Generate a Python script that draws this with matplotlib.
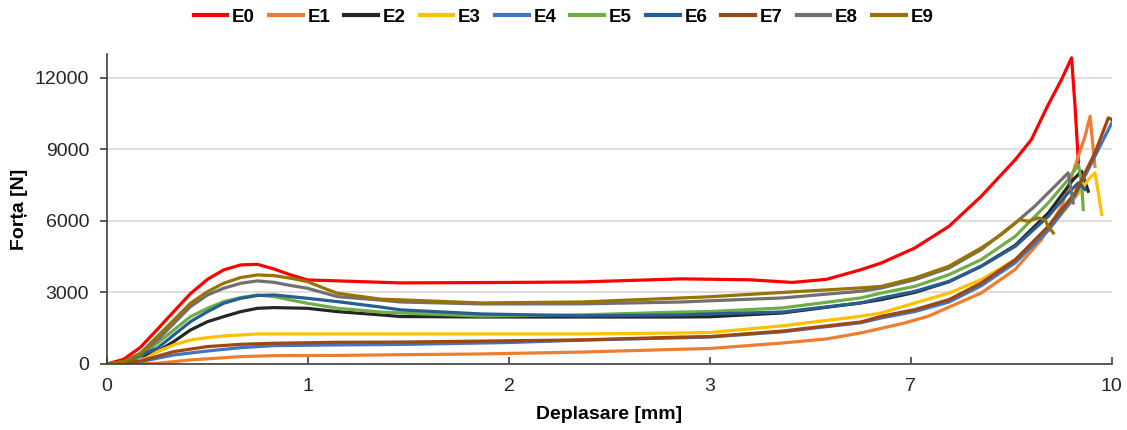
import matplotlib
matplotlib.use("Agg")
import matplotlib.pyplot as plt

plt.rcParams['font.family'] = ['Liberation Sans', 'DejaVu Sans']

# category positions 0..5 on the x axis, labelled with the displacement marks
tick_pos = [0, 1, 2, 3, 4, 5]
tick_labels = ['0', '1', '2', '3', '7', '10']
y_ticks = [0, 3000, 6000, 9000, 12000]

names = ['E0', 'E1', 'E2', 'E3', 'E4', 'E5', 'E6', 'E7', 'E8', 'E9']
colors = ['#FF0000', '#ED7D31', '#262626', '#FFC000', '#4472C4',
          '#70AD47', '#255E91', '#9E480E', '#707070', '#997300']

# values (x in axis positions)
x_e0 = [0, 0.083, 0.166, 0.25, 0.332, 0.415, 0.5, 0.58, 0.665, 0.748, 0.83, 0.914, 0.997,
        1.147, 1.46, 2.0, 2.36, 2.86, 3.2, 3.41, 3.58, 3.75, 3.853, 4.02, 4.19, 4.35, 4.52,
        4.6, 4.68, 4.75, 4.8, 4.817, 4.834]
y_e0 = [0, 200, 700, 1450, 2200, 2950, 3550, 3945, 4155, 4180, 3985, 3735, 3525,
        3485, 3400, 3420, 3440, 3570, 3530, 3420, 3550, 3950, 4235, 4865, 5775, 7030, 8570,
        9410, 10810, 11930, 12840, 10810, 8430]

x_e1 = [0, 0.25, 0.415, 0.665, 0.83, 1.147, 1.46, 1.86, 2.36, 2.86, 3.0, 3.36, 3.58, 3.75,
        3.96, 4.086, 4.35, 4.518, 4.65, 4.75, 4.817, 4.867, 4.892, 4.908, 4.916]
y_e1 = [0, 30, 170, 310, 350, 360, 390, 420, 500, 620, 650, 880, 1050, 1300,
        1700, 2000, 2975, 3955, 5215, 6615, 8290, 9550, 10390, 8990, 8290]

x_e2 = [0, 0.083, 0.25, 0.332, 0.415, 0.5, 0.58, 0.665, 0.748, 0.83, 0.997, 1.147, 1.36,
        1.46, 1.86, 2.36, 2.86, 3.0, 3.36, 3.75, 3.853, 4.02, 4.19, 4.35, 4.52, 4.684,
        4.808, 4.85, 4.883]
y_e2 = [0, 80, 520, 940, 1425, 1775, 1985, 2195, 2335, 2365, 2335, 2195, 2060,
        1990, 1970, 1970, 1970, 1980, 2140, 2560, 2700, 3000, 3450, 4100, 4980, 6330,
        7735, 8080, 7245]

x_e3 = [0, 0.166, 0.25, 0.332, 0.415, 0.5, 0.58, 0.665, 0.748, 1.147, 1.46, 2.36, 2.86,
        3.0, 3.36, 3.75, 3.853, 4.02, 4.19, 4.35, 4.52, 4.684, 4.783, 4.85, 4.883, 4.916,
        4.933, 4.95]
y_e3 = [0, 100, 520, 800, 1005, 1105, 1175, 1215, 1260, 1260, 1260, 1260, 1300,
        1320, 1600, 2000, 2140, 2560, 2975, 3535, 4375, 5635, 6615, 7315, 7735, 8015,
        7175, 6265]

x_e4 = [0, 0.166, 0.332, 0.5, 0.665, 0.83, 1.147, 1.46, 2.0, 2.36, 2.86, 3.0, 3.36, 3.75,
        3.853, 4.02, 4.19, 4.35, 4.52, 4.684, 4.817, 4.916, 5.0]
y_e4 = [0, 100, 380, 545, 685, 770, 800, 820, 900, 1000, 1100, 1130, 1350, 1730,
        1930, 2200, 2600, 3280, 4250, 5600, 7050, 8710, 10110]

x_e5 = [0, 0.083, 0.166, 0.25, 0.332, 0.415, 0.5, 0.58, 0.665, 0.748, 0.83, 0.914, 0.997,
        1.147, 1.36, 1.46, 1.86, 2.36, 2.86, 3.0, 3.36, 3.75, 3.853, 4.02, 4.19, 4.35,
        4.52, 4.684, 4.783, 4.834, 4.85, 4.858]
y_e5 = [0, 80, 310, 870, 1425, 1985, 2335, 2615, 2785, 2895, 2825, 2685, 2545,
        2335, 2180, 2140, 2010, 2060, 2180, 2200, 2350, 2770, 2975, 3255, 3745, 4375,
        5355, 6755, 7735, 8360, 7595, 6475]

x_e6 = [0, 0.083, 0.25, 0.332, 0.415, 0.5, 0.58, 0.665, 0.748, 0.83, 0.914, 0.997, 1.147,
        1.36, 1.46, 1.86, 2.36, 2.86, 3.0, 3.36, 3.75, 3.853, 4.02, 4.19, 4.35, 4.52,
        4.684, 4.783, 4.834, 4.867]
y_e6 = [0, 80, 660, 1215, 1775, 2195, 2545, 2755, 2870, 2895, 2825, 2755, 2615,
        2390, 2270, 2100, 2020, 2060, 2100, 2180, 2560, 2765, 3045, 3465, 4095, 4935,
        6190, 7175, 7595, 7315]

x_e7 = [0, 0.166, 0.332, 0.5, 0.665, 0.83, 1.147, 1.46, 2.36, 2.86, 3.0, 3.36, 3.75, 3.853,
        4.02, 4.19, 4.35, 4.52, 4.684, 4.817, 4.916, 4.983, 5.0]
y_e7 = [0, 125, 520, 730, 825, 870, 910, 920, 1010, 1130, 1150, 1380, 1760, 2000,
        2280, 2700, 3395, 4375, 5775, 7175, 8850, 10320, 10250]

x_e8 = [0, 0.083, 0.166, 0.25, 0.332, 0.415, 0.5, 0.58, 0.665, 0.748, 0.83, 0.914, 0.997,
        1.147, 1.36, 1.46, 1.86, 2.36, 2.86, 3.0, 3.36, 3.75, 3.853, 4.02, 4.19, 4.35,
        4.52, 4.617, 4.717, 4.783, 4.808]
y_e8 = [0, 100, 420, 1000, 1700, 2405, 2895, 3175, 3385, 3485, 3425, 3290, 3175,
        2825, 2680, 2600, 2520, 2520, 2600, 2650, 2770, 3050, 3185, 3535, 4025, 4795,
        5915, 6615, 7455, 8015, 6755]

x_e9 = [0, 0.083, 0.166, 0.25, 0.332, 0.415, 0.5, 0.58, 0.665, 0.748, 0.83, 0.914, 0.997,
        1.08, 1.147, 1.36, 1.46, 1.86, 2.36, 2.86, 3.0, 3.36, 3.75, 3.853, 4.02, 4.19,
        4.35, 4.45, 4.54, 4.584, 4.634, 4.667, 4.684, 4.709]
y_e9 = [0, 100, 450, 1150, 1845, 2545, 3035, 3385, 3625, 3735, 3705, 3595, 3455,
        3175, 2965, 2720, 2690, 2560, 2600, 2770, 2820, 3000, 3190, 3255, 3605, 4100,
        4865, 5425, 6050, 5985, 6125, 6050, 5775, 5495]

xs = [x_e0, x_e1, x_e2, x_e3, x_e4, x_e5, x_e6, x_e7, x_e8, x_e9]
ys = [y_e0, y_e1, y_e2, y_e3, y_e4, y_e5, y_e6, y_e7, y_e8, y_e9]

fig = plt.figure(figsize=(11.27, 4.30), dpi=100)
ax = fig.add_axes([0.095, 0.1535, 0.8915, 0.721])

for name, col, x, y in zip(names, colors, xs, ys):
    ax.plot(x, y, color=col, lw=2.3, label=name, solid_joinstyle='round')

ax.set_xlim(0, 5)
ax.set_ylim(0, 13000)
ax.set_xticks(tick_pos)
ax.set_xticklabels(tick_labels)
ax.set_yticks(y_ticks)
ax.yaxis.grid(True, color='#D9D9D9', lw=1.2)
ax.set_axisbelow(True)

for s in ['top', 'right']:
    ax.spines[s].set_visible(False)
for s in ['left', 'bottom']:
    ax.spines[s].set_color('#404040')
    ax.spines[s].set_linewidth(1.2)

ax.tick_params(axis='x', direction='in', length=5, width=1.2, color='#404040',
               labelsize=14, labelcolor='#262626', pad=10)
ax.tick_params(axis='y', direction='out', length=5, width=1.2, color='#404040',
               labelsize=14, labelcolor='#262626', pad=8)

ax.set_xlabel('Deplasare [mm]', fontsize=14, fontweight='bold', labelpad=8)
ax.set_ylabel('Forța [N]', fontsize=14, fontweight='bold', labelpad=5)

leg = fig.legend(loc='center', bbox_to_anchor=(0.5, 0.96), ncol=10, frameon=False,
                 prop={'size': 13.5, 'weight': 'bold'}, handlelength=1.8,
                 handletextpad=0.25, columnspacing=0.75)
for line in leg.get_lines():
    line.set_linewidth(3)

fig.savefig('out.png', dpi=100)
